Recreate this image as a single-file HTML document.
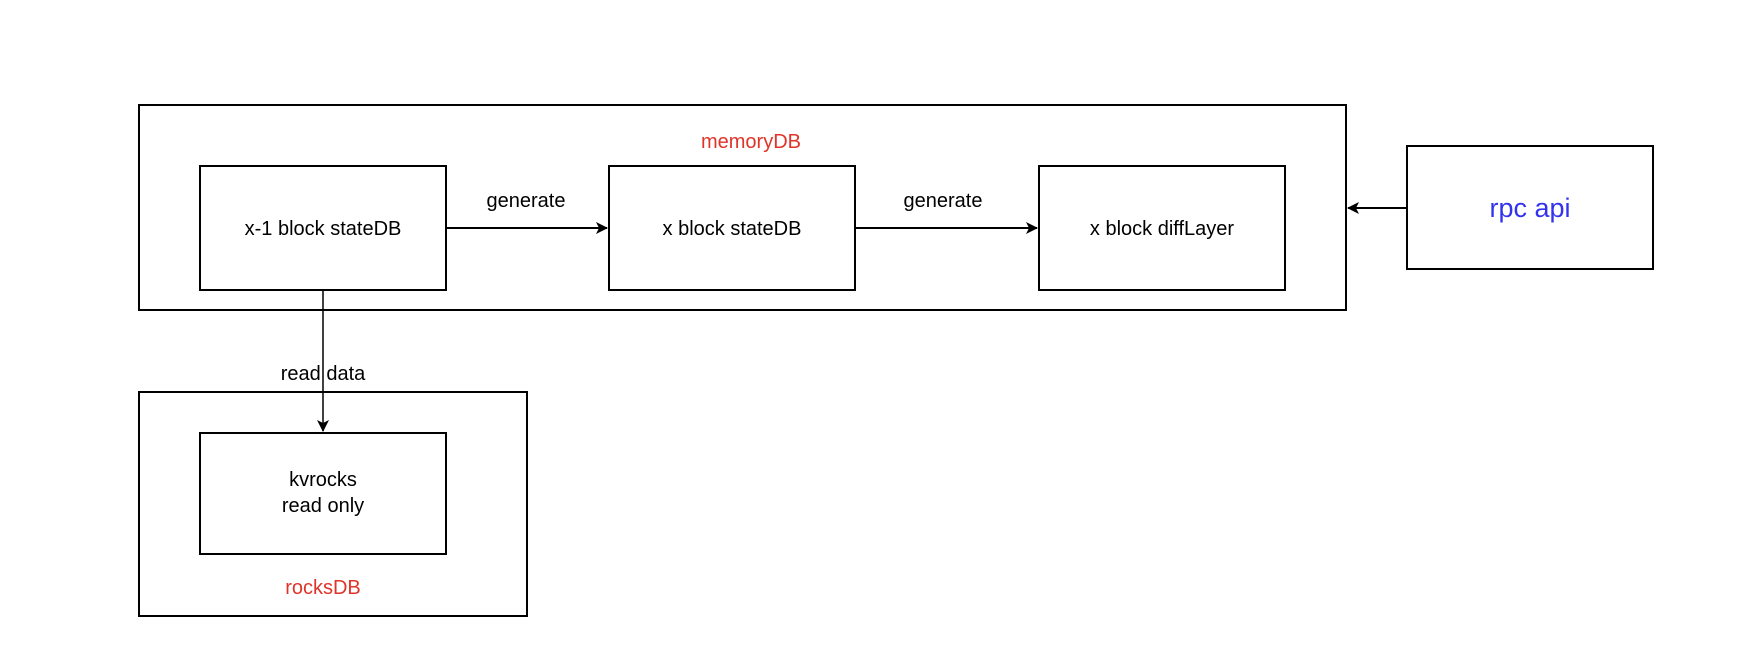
<!DOCTYPE html>
<html><head><style>
body{margin:0;background:#fff}
svg text{font-family:"Liberation Sans",sans-serif}
</style></head><body>
<svg width="1760" height="652" xmlns="http://www.w3.org/2000/svg">
<defs><marker id="a" markerWidth="12" markerHeight="12" refX="11" refY="6" orient="auto" markerUnits="userSpaceOnUse"><path d="M0,0 L12,6 L0,12 L3,6 z" fill="#000"/></marker></defs>
<g fill="none" stroke="#000" stroke-width="2">
<rect x="139" y="105" width="1207" height="205"/>
<rect x="200" y="166" width="246" height="124"/>
<rect x="609" y="166" width="246" height="124"/>
<rect x="1039" y="166" width="246" height="124"/>
<rect x="1407" y="146" width="246" height="123"/>
<rect x="139" y="392" width="388" height="224"/>
<rect x="200" y="433" width="246" height="121"/>
<line x1="446" y1="228" x2="607" y2="228" marker-end="url(#a)"/>
<line x1="855" y1="228" x2="1037" y2="228" marker-end="url(#a)"/>
<line x1="1407" y1="208" x2="1348" y2="208" marker-end="url(#a)"/>
<line x1="323" y1="290" x2="323" y2="431" marker-end="url(#a)" stroke-width="1.5"/>
</g>
<g font-size="20" text-anchor="middle" fill="#000">
<text x="751" y="148" fill="#e0332a">memoryDB</text>
<text x="323" y="235">x-1 block stateDB</text>
<text x="732" y="235">x block stateDB</text>
<text x="1162" y="235">x block diffLayer</text>
<text x="526" y="207">generate</text>
<text x="943" y="207">generate</text>
<text x="1530" y="217" font-size="27" fill="#3333ee">rpc api</text>
<text x="323" y="380">read data</text>
<text x="323" y="486">kvrocks</text>
<text x="323" y="512">read only</text>
<text x="323" y="594" fill="#e0332a">rocksDB</text>
</g>
</svg>
</body></html>
